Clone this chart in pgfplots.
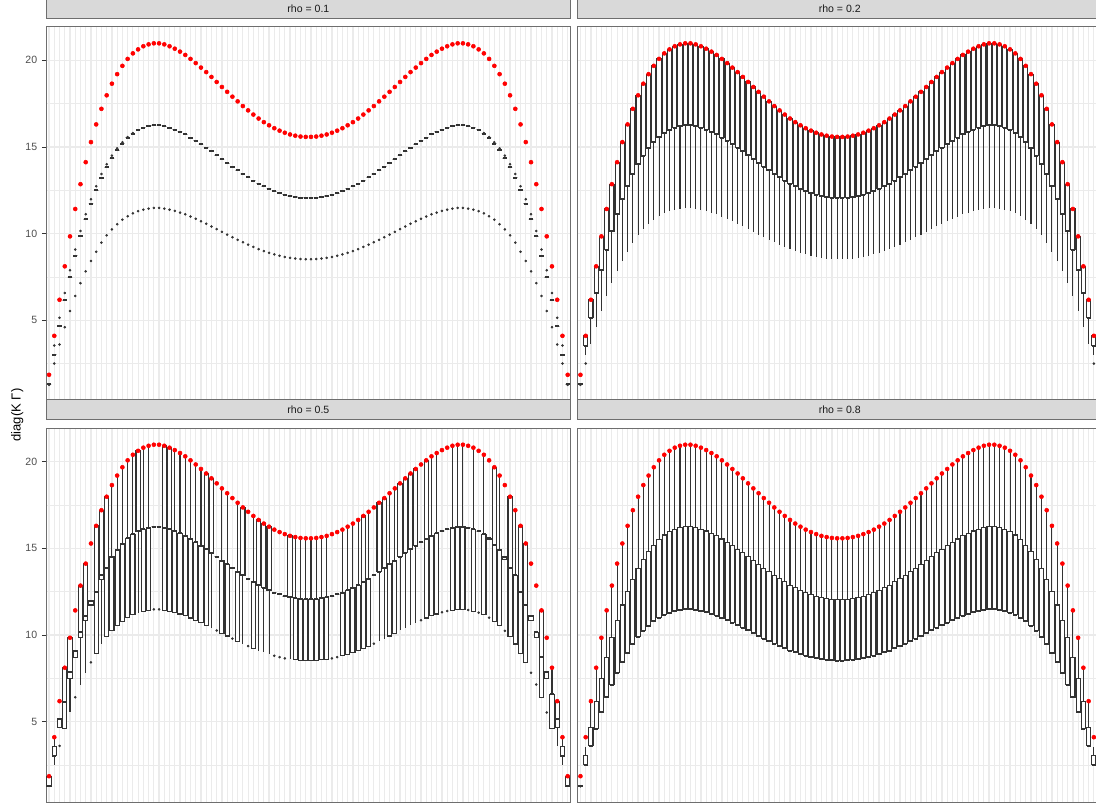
\documentclass[border=0pt]{standalone}
\usepackage{fontspec}
\setmainfont{Liberation Sans}
\usepackage{pgfplots}
\usepackage{pgfplotstable}
\usepgfplotslibrary{statistics}
\pgfplotsset{compat=1.18}

\definecolor{gridgrey}{HTML}{EBEBEB}
\definecolor{stripgrey}{HTML}{D9D9D9}
\definecolor{boxgrey}{HTML}{333333}
\definecolor{framegrey}{HTML}{6E6E6E}
\definecolor{ticktext}{HTML}{4D4D4D}

% i: location index; H: largest value; Ma, Mb: middle values; L: smallest value
% t1..t4: box layout of each location for rho = 0.1, 0.2, 0.5, 0.8
\pgfplotstableread{
i H Ma Mb L t1 t2 t3 t4
1 1.85 1.30 1.30 1.27 9 0 2 0
2 4.10 3.54 3.02 2.50 9 6 8 7
3 6.18 5.14 4.65 3.60 9 1 0 4
4 8.11 6.57 6.15 4.60 9 1 2 4
5 9.84 7.88 7.49 5.53 9 1 5 4
6 11.42 9.08 8.72 6.40 9 1 0 4
7 12.85 10.15 9.84 7.14 9 1 5 4
8 14.12 11.12 10.83 7.82 9 1 5 4
9 15.28 11.98 11.73 8.42 9 1 0 4
10 16.30 12.73 12.50 8.95 9 1 2 4
11 17.20 13.44 13.21 9.48 9 1 5 4
12 17.98 14.00 13.84 9.90 9 1 2 4
13 18.65 14.50 14.35 10.24 9 1 3 4
14 19.20 14.92 14.80 10.54 9 1 3 4
15 19.68 15.27 15.19 10.80 9 1 3 4
16 20.08 15.57 15.52 11.00 9 1 3 4
17 20.40 15.80 15.77 11.17 9 1 3 4
18 20.63 15.98 15.98 11.29 9 1 1 4
19 20.81 16.11 16.11 11.38 9 1 3 4
20 20.92 16.19 16.19 11.44 9 1 3 4
21 20.98 16.24 16.24 11.48 9 1 0 4
22 20.98 16.24 16.24 11.48 9 1 0 4
23 20.92 16.19 16.19 11.44 9 1 2 4
24 20.81 16.11 16.11 11.38 9 1 2 4
25 20.67 16.00 16.00 11.31 9 1 3 4
26 20.50 15.87 15.87 11.21 9 1 3 4
27 20.31 15.72 15.72 11.11 9 1 3 4
28 20.08 15.54 15.54 10.98 9 1 3 4
29 19.84 15.36 15.36 10.85 9 1 3 4
30 19.58 15.15 15.15 10.71 9 1 3 4
31 19.32 14.95 14.95 10.57 9 1 2 4
32 19.04 14.74 14.74 10.41 9 1 1 4
33 18.75 14.51 14.51 10.26 9 1 0 4
34 18.46 14.29 14.29 10.10 9 1 3 4
35 18.18 14.07 14.07 9.94 9 1 3 4
36 17.90 13.85 13.85 9.79 9 1 0 4
37 17.63 13.65 13.65 9.64 9 1 3 4
38 17.36 13.44 13.44 9.50 9 1 1 4
39 17.11 13.24 13.24 9.36 9 1 0 4
40 16.87 13.06 13.06 9.23 9 1 3 4
41 16.64 12.88 12.88 9.10 9 1 1 4
42 16.43 12.72 12.72 8.99 9 1 1 4
43 16.25 12.58 12.58 8.89 9 1 1 4
44 16.08 12.45 12.45 8.80 9 1 0 4
45 15.94 12.34 12.34 8.72 9 1 0 4
46 15.82 12.24 12.24 8.65 9 1 0 4
47 15.72 12.17 12.17 8.60 9 1 1 4
48 15.65 12.11 12.11 8.56 9 1 3 4
49 15.60 12.07 12.07 8.53 9 1 3 4
50 15.58 12.06 12.06 8.52 9 1 3 4
51 15.58 12.06 12.06 8.52 9 1 3 4
52 15.60 12.07 12.07 8.53 9 1 3 4
53 15.65 12.11 12.11 8.56 9 1 3 4
54 15.72 12.17 12.17 8.60 9 1 3 4
55 15.82 12.24 12.24 8.65 9 1 0 4
56 15.94 12.34 12.34 8.72 9 1 0 4
57 16.08 12.45 12.45 8.80 9 1 3 4
58 16.25 12.58 12.58 8.89 9 1 3 4
59 16.43 12.72 12.72 8.99 9 1 3 4
60 16.64 12.88 12.88 9.10 9 1 3 4
61 16.87 13.06 13.06 9.23 9 1 2 4
62 17.11 13.24 13.24 9.36 9 1 3 4
63 17.36 13.44 13.44 9.50 9 1 0 4
64 17.63 13.65 13.65 9.64 9 1 1 4
65 17.90 13.85 13.85 9.79 9 1 1 4
66 18.18 14.07 14.07 9.94 9 1 3 4
67 18.46 14.29 14.29 10.10 9 1 3 4
68 18.75 14.51 14.51 10.26 9 1 1 4
69 19.04 14.74 14.74 10.41 9 1 1 4
70 19.32 14.95 14.95 10.57 9 1 1 4
71 19.58 15.15 15.15 10.71 9 1 1 4
72 19.84 15.36 15.36 10.85 9 1 0 4
73 20.08 15.54 15.54 10.98 9 1 2 4
74 20.31 15.72 15.72 11.11 9 1 3 4
75 20.50 15.87 15.87 11.21 9 1 3 4
76 20.67 16.00 16.00 11.31 9 1 0 4
77 20.81 16.11 16.11 11.38 9 1 0 4
78 20.92 16.19 16.19 11.44 9 1 3 4
79 20.98 16.24 16.24 11.48 9 1 3 4
80 20.98 16.24 16.24 11.48 9 1 3 4
81 20.92 16.19 16.19 11.44 9 1 0 4
82 20.81 16.11 16.11 11.38 9 1 3 4
83 20.63 15.98 15.98 11.29 9 1 0 4
84 20.40 15.80 15.77 11.17 9 1 3 4
85 20.08 15.57 15.52 11.00 9 1 0 4
86 19.68 15.27 15.19 10.80 9 1 2 4
87 19.20 14.92 14.80 10.54 9 1 3 4
88 18.65 14.50 14.35 10.24 9 1 0 4
89 17.98 14.00 13.84 9.90 9 1 2 4
90 17.20 13.44 13.21 9.48 9 1 3 4
91 16.30 12.73 12.50 8.95 9 1 2 4
92 15.28 11.98 11.73 8.42 9 1 2 4
93 14.12 11.12 10.83 7.82 9 1 0 4
94 12.85 10.15 9.84 7.14 9 1 0 4
95 11.42 9.08 8.72 6.40 9 1 2 4
96 9.84 7.88 7.49 5.53 9 1 0 4
97 8.11 6.57 6.15 4.60 9 1 3 4
98 6.18 5.14 4.65 3.60 9 1 5 4
99 4.10 3.54 3.02 2.50 9 6 8 7
100 1.85 1.30 1.30 1.27 9 0 2 0
}\diagdata

\newcommand\setq[5]{\edef\qa{#1}\edef\qb{#2}\edef\qc{#3}\edef\qd{#4}\edef\qe{#5}}

% one box per location; #1 is the layout column of the panel
\newcommand\drawboxes[1]{%
  \pgfplotsforeachungrouped \rowidx in {0,...,99}{%
    \pgfplotstablegetelem{\rowidx}{i}\of\diagdata \edef\cx{\pgfplotsretval}%
    \pgfplotstablegetelem{\rowidx}{H}\of\diagdata \edef\vH{\pgfplotsretval}%
    \pgfplotstablegetelem{\rowidx}{Ma}\of\diagdata \edef\vA{\pgfplotsretval}%
    \pgfplotstablegetelem{\rowidx}{Mb}\of\diagdata \edef\vB{\pgfplotsretval}%
    \pgfplotstablegetelem{\rowidx}{L}\of\diagdata \edef\vL{\pgfplotsretval}%
    \pgfplotstablegetelem{\rowidx}{#1}\of\diagdata \edef\vT{\pgfplotsretval}%
    \def\hasout{0}\def\hasmid{0}%
    \ifcase\vT\relax
      \setq{\vB}{\vB}{\vA}{\vA}{\vA}\def\hasout{1}%
    \or \setq{\vL}{\vA}{\vA}{\vH}{\vH}%
    \or \setq{\vL}{\vL}{\vB}{\vH}{\vH}%
    \or \setq{\vL}{\vL}{\vA}{\vA}{\vH}%
    \or \setq{\vL}{\vL}{\vL}{\vB}{\vH}%
    \or \setq{\vL}{\vB}{\vA}{\vH}{\vH}%
    \or \setq{\vB}{\vA}{\vA}{\vH}{\vH}\def\hasout{1}%
    \or \setq{\vL}{\vL}{\vL}{\vB}{\vA}%
    \or \setq{\vL}{\vB}{\vB}{\vA}{\vH}%
    \or \setq{\vB}{\vB}{\vB}{\vB}{\vB}\def\hasout{1}\def\hasmid{1}%
    \fi
    \edef\tmp{\noexpand\addplot[kbox, boxplot prepared={draw direction=y,
      draw position=\cx,
      lower whisker=\qa, lower quartile=\qb, median=\qc,
      upper quartile=\qd, upper whisker=\qe}] coordinates {};}%
    \tmp
    \ifnum\hasout=1
      \edef\tmp{\noexpand\addplot[outl] coordinates {(\cx,\vL)};}%
      \tmp
    \fi
    \ifnum\hasmid=1
      \ifdim\vA pt>\vB pt
        \edef\tmp{\noexpand\addplot[outl] coordinates {(\cx,\vA)};}%
        \tmp
      \fi
    \fi
  }%
  \addplot[only marks, mark=*, mark size=1.5pt, color=red,
    mark options={draw=none, fill=red}] table[x=i, y=H] {\diagdata};
}

\pgfplotsset{
  kbox/.style={draw=boxgrey, fill=white, line width=0.8pt, solid,
    boxplot/box extend=0.8, boxplot/whisker extend=0,
    boxplot/every median/.style={line width=1.5pt}},
  outl/.style={only marks, mark=*, mark size=0.75pt, color=boxgrey,
    mark options={draw=none, fill=boxgrey}},
  facet/.style={
    scale only axis, width=393.7pt, height=281.1pt, anchor=south west,
    xmin=0.4, xmax=100.6, ymin=0.31, ymax=21.94,
    xtick={1,...,100}, xticklabels=\empty, xtick style={draw=none},
    ytick={5,10,15,20}, minor ytick={2.5,7.5,12.5,17.5}, ytick pos=left,
    xmajorgrids, ymajorgrids, yminorgrids,
    major grid style={gridgrey, line width=0.9pt},
    minor grid style={gridgrey, line width=0.5pt},
    axis line style={framegrey, line width=0.6pt},
    tick align=outside, major tick length=3pt, minor tick length=0pt,
    ytick style={boxgrey, line width=0.5pt},
    /pgf/number format/assume math mode=true,
    yticklabel style={font=\fontsize{7.9}{9}\selectfont, text=ticktext},
    title style={at={(0.5,1)}, anchor=south, yshift=0pt,
      minimum width=393.7pt, minimum height=15pt, inner sep=0pt,
      fill=stripgrey, draw=framegrey, line width=0.6pt,
      font=\fontsize{7.9}{9}\selectfont, text=black!90},
  },
  noyaxis/.style={yticklabels=\empty, ytick style={draw=none}},
}

\begin{document}
\begin{tikzpicture}
\begin{axis}[facet, at={(34.43pt,301.13pt)}, title={rho = 0.1}]
  \drawboxes{t1}
\end{axis}
\begin{axis}[facet, noyaxis, at={(432.98pt,301.13pt)}, title={rho = 0.2}]
  \drawboxes{t2}
\end{axis}
\begin{axis}[facet, at={(34.43pt,0.08pt)}, title={rho = 0.5}]
  \drawboxes{t3}
\end{axis}
\begin{axis}[facet, noyaxis, at={(432.98pt,0.08pt)}, title={rho = 0.8}]
  \drawboxes{t4}
\end{axis}
\node[rotate=90, font=\fontsize{9.8}{11}\selectfont, text=black] at (12.9pt,291pt) {diag(K Γ)};
\pgfresetboundingbox
\useasboundingbox (0,0) rectangle (822pt,602.25pt);
\end{tikzpicture}
\end{document}
